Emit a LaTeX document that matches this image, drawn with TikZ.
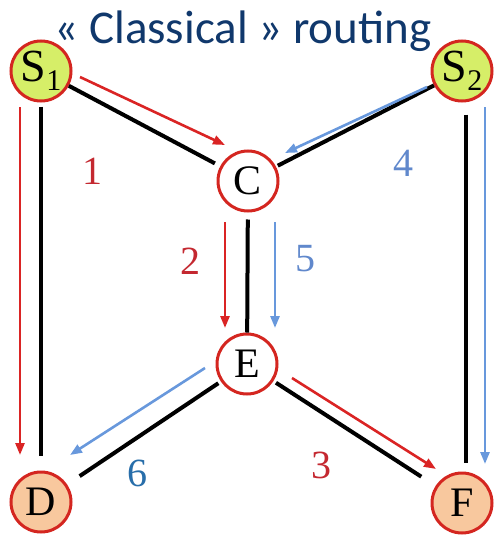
\documentclass[tikz,border=0pt]{standalone}
\usepackage{fontspec}
\setmainfont{Liberation Serif}
\newfontfamily\titlefont{Carlito}
\usetikzlibrary{arrows.meta}
\definecolor{titleblue}{RGB}{16,56,108}
\definecolor{nodered}{RGB}{212,38,32}
\definecolor{arrred}{RGB}{218,36,36}
\definecolor{arrblue}{RGB}{104,152,220}
\definecolor{lblred}{RGB}{196,40,48}
\definecolor{lblblue}{RGB}{96,136,204}
\definecolor{lbldark}{RGB}{40,110,170}
\definecolor{srcfill}{RGB}{214,238,104}
\definecolor{dstfill}{RGB}{248,200,158}
\tikzset{
  router/.style={circle, draw=nodered, line width=3pt, minimum size=60pt, inner sep=0pt,
    fill=white, font=\fontsize{42}{42}\selectfont},
  src/.style={router, fill=srcfill},
  dst/.style={router, fill=dstfill},
  link/.style={line width=4pt, black},
  redarr/.style={line width=2.6pt, arrred, -{Triangle[length=12pt,width=9pt]}},
  bluearr/.style={line width=2.6pt, arrblue, -{Triangle[length=12pt,width=9pt]}},
  lbl/.style={font=\fontsize{40}{40}\selectfont, inner sep=0pt}
}
\newcommand{\subone}[1]{\fontsize{46}{46}\selectfont S\raisebox{-0.2em}{\fontsize{30}{30}\selectfont #1}}
\begin{document}
\begin{tikzpicture}[x=1pt,y=-1pt]
\useasboundingbox (0,0) rectangle (495,535);
% title
\node[anchor=base, text=titleblue, font=\titlefont\fontsize{47}{47}\selectfont, inner sep=0pt] (title) at (243,44) {« Classical » routing};
% nodes
\node[src] (S1) at (41,71) {\subone{1}};
\node[src] (S2) at (462,71) {\subone{2}};
\node[router] (C) at (248,181) {C};
\node[router] (E) at (247,364) {E};
\node[dst] (D) at (41,502) {D};
\node[dst] (F) at (462,503) {F};
% black links
\draw[link, shorten >=6pt] (S1) -- (C);
\draw[link, shorten >=2pt] (S2) -- (C);
\draw[link, shorten <=4pt, shorten >=15pt] (S1) -- (D);
\draw[link, shorten <=12pt, shorten >=9pt] ([xshift=4pt]S2.south) -- ([xshift=4pt]F.north);
\draw[link, shorten <=7pt] (C) -- (E);
\draw[link, shorten <=3pt, shorten >=15pt] (E) -- (D);
\draw[link, shorten <=3pt, shorten >=17pt] (E) -- (F);
% arrow end points
\coordinate (a1s) at (80,77);   \coordinate (a1e) at (225,145);
\coordinate (a4s) at (427,87);  \coordinate (a4e) at (285,153);
\coordinate (a0s) at (20,107);  \coordinate (a0e) at (20,455);
\coordinate (a9s) at (485,107); \coordinate (a9e) at (485,464);
\coordinate (a2s) at (225,222); \coordinate (a2e) at (225,328);
\coordinate (a5s) at (275,222); \coordinate (a5e) at (275,328);
\coordinate (a6s) at (205,368); \coordinate (a6e) at (70,455);
\coordinate (a3s) at (292,378); \coordinate (a3e) at (436,469);
% coloured routes
\draw[redarr] (a1s) -- (a1e);
\draw[bluearr] (a4s) -- (a4e);
\draw[redarr] (a0s) -- (a0e);
\draw[bluearr] (a9s) -- (a9e);
\draw[redarr] (a2s) -- (a2e);
\draw[bluearr] (a5s) -- (a5e);
\draw[bluearr] (a6s) -- (a6e);
\draw[redarr] (a3s) -- (a3e);
% labels
\node[lbl, text=lblred] (l1) at (92,171) {1};
\node[lbl, text=lblblue] (l4) at (403,163) {4};
\node[lbl, text=lblred] (l2) at (190,261) {2};
\node[lbl, text=lblblue] (l5) at (305,259) {5};
\node[lbl, text=lbldark] (l6) at (137,473) {6};
\node[lbl, text=lblred] (l3) at (321,465) {3};
\end{tikzpicture}
\end{document}
